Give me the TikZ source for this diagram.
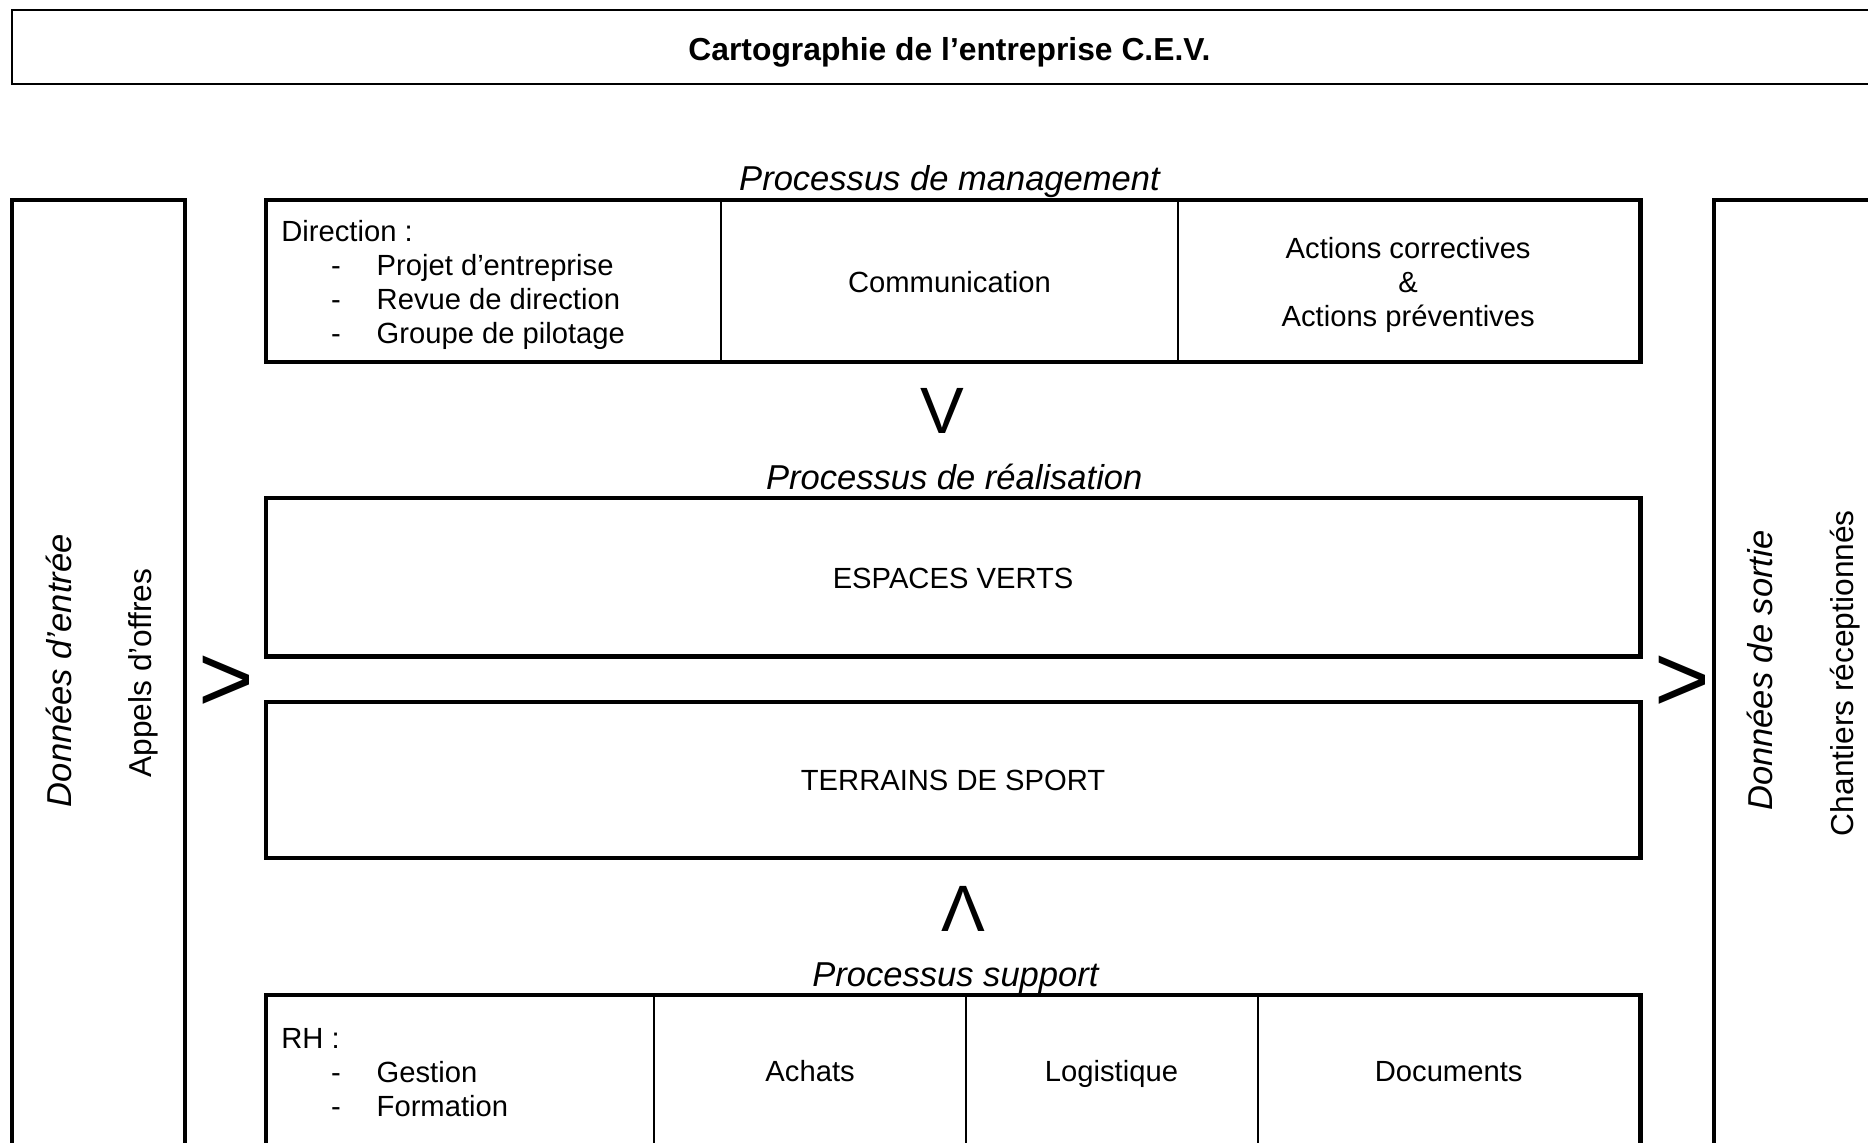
\documentclass[tikz,border=0pt]{standalone}
\usepackage{fontspec}
\setmainfont{Liberation Sans}
\begin{document}
\begin{tikzpicture}[x=1pt,y=-1pt,
  thickbox/.style={line width=3.6pt},
  thinline/.style={line width=1.7pt},
  body/.style={font=\fontsize{24.5}{28.5}\selectfont, inner sep=0pt},
  lab/.style={font=\fontsize{29}{34}\selectfont\itshape, inner sep=0pt},
  side/.style={font=\fontsize{26.6}{30}\selectfont, inner sep=0pt},
  bigsym/.style={font=\fontsize{55}{60}\selectfont, inner sep=0pt},
  gtsym/.style={font=\fontsize{80}{80}\selectfont, inner sep=0pt}]
\useasboundingbox (0,0) rectangle (1568,959.4);
\clip (0,0) rectangle (1568,959.4);
% title
\draw[line width=1.6pt] (10.4,8.4) rectangle (1620,70.8);
\node[font=\bfseries\fontsize{26.7}{30}\selectfont, anchor=base, inner sep=0pt] (title) at (797,50.5) {Cartographie de l’entreprise C.E.V.};
% side columns
\draw[thickbox] (10,1010) -- (10,168) -- (155,168) -- (155,1010);
\draw[thickbox] (1439,1010) -- (1439,168) -- (1620,168);
\node[lab, rotate=90, anchor=base] (din) at (60,563) {Données d’entrée};
\node[side, rotate=90, anchor=base] (ao) at (127.5,565) {Appels d’offres};
\node[lab, rotate=90, anchor=base] (dout) at (1488,563) {Données de sortie};
\node[side, rotate=90, anchor=base] (cr) at (1555.5,565) {Chantiers réceptionnés};
% management
\node[lab, anchor=base] (pm) at (797,160) {Processus de management};
\draw[thickbox] (223,168) rectangle (1377,304);
\draw[thinline] (605,168) -- (605,304);
\draw[thinline] (989,168) -- (989,304);
\node[body, anchor=base west] (dir) at (236,202.8) {Direction :};
\node[body, anchor=base] (d1) at (282,231.3) {-};
\node[body, anchor=base] (d2) at (282,259.8) {-};
\node[body, anchor=base] (d3) at (282,288.3) {-};
\node[body, anchor=base west] (pe) at (316,231.3) {Projet d’entreprise};
\node[body, anchor=base west] (rd) at (316,259.8) {Revue de direction};
\node[body, anchor=base west] (gp) at (316,288.3) {Groupe de pilotage};
\node[body, anchor=base] (com) at (797,245.7) {Communication};
\node[body, anchor=base] (ac1) at (1182,216.8) {Actions correctives};
\node[body, anchor=base] (ac2) at (1182,245.3) {\&};
\node[body, anchor=base] (ac3) at (1182,273.8) {Actions préventives};
% arrow symbols
\node[bigsym, anchor=base] (vdown) at (791,364) {V};
\node[bigsym, anchor=base] (vup) at (809,782) {Λ};
\node[gtsym, anchor=center] (gtl) at (190,574) {>};
\node[gtsym, anchor=center] (gtr) at (1412,574) {>};
% realisation
\node[lab, anchor=base] (pr) at (801,411) {Processus de réalisation};
\draw[thickbox] (223,418) rectangle (1377,551);
\node[body, anchor=base] (ev) at (800,493.8) {ESPACES VERTS};
\draw[thickbox] (223,589) rectangle (1377,720);
\node[body, anchor=base] (ts) at (800,663.8) {TERRAINS DE SPORT};
% support
\node[lab, anchor=base] (ps) at (802,828) {Processus support};
\draw[thickbox] (223,835) rectangle (1377,1010);
\draw[thinline] (549,835) -- (549,1010);
\draw[thinline] (811,835) -- (811,1010);
\draw[thinline] (1056,835) -- (1056,1010);
\node[body, anchor=base west] (rh) at (236,879.8) {RH :};
\node[body, anchor=base] (r1) at (282,908.3) {-};
\node[body, anchor=base] (r2) at (282,936.8) {-};
\node[body, anchor=base west] (ge) at (316,908.3) {Gestion};
\node[body, anchor=base west] (fo) at (316,936.8) {Formation};
\node[body, anchor=base] (ach) at (680,907.8) {Achats};
\node[body, anchor=base] (log) at (933,907.8) {Logistique};
\node[body, anchor=base] (doc) at (1216,907.8) {Documents};
\end{tikzpicture}
\end{document}
